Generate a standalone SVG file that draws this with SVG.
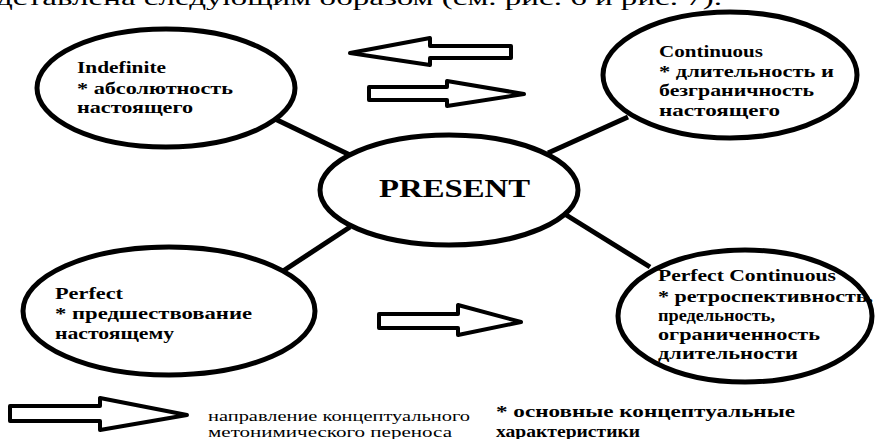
<svg xmlns="http://www.w3.org/2000/svg" width="875" height="439" viewBox="0 0 875 439">
<style>
.node{fill:#fff;stroke:#000;stroke-width:5}
.conn{stroke:#000;stroke-width:5;fill:none}
.barrow{fill:#fff;stroke:#000;stroke-width:4;stroke-linejoin:round}
.t{font-family:"Liberation Serif","Times New Roman",serif;font-weight:bold;font-size:17px;fill:#000}
.big{font-size:26px}
.leg{font-family:"Liberation Serif","Times New Roman",serif;font-size:14px;fill:#000}
.top{font-family:"Liberation Serif","Times New Roman",serif;font-size:22px;fill:#000}
</style>
<rect width="875" height="439" fill="#fff"/>
<text class="top" x="-4" y="5" textLength="726" lengthAdjust="spacingAndGlyphs">дставлена следующим образом (см. рис. 6 и рис. 7).</text>
<g id="connectors">
<line class="conn" x1="273" y1="118" x2="350" y2="155"/>
<line class="conn" x1="628" y1="117" x2="548" y2="153"/>
<line class="conn" x1="280" y1="273" x2="350" y2="227"/>
<line class="conn" x1="563" y1="213" x2="650" y2="267"/>
</g>
<g id="arrows">
<polygon class="barrow" points="350,53 430,38 430,46 511,46 511,58 430,58 430,65"/>
<polygon class="barrow" points="524,94 447,81 447,87 369,87 369,100 447,100 447,106"/>
<polygon class="barrow" points="521,322 458,305 458,314 379,314 379,328 458,328 458,335"/>
</g>
<g id="indefinite">
<ellipse class="node" cx="166" cy="88" rx="129" ry="59"/>
<text class="t" x="77" y="73" textLength="89" lengthAdjust="spacingAndGlyphs">Indefinite</text>
<text class="t" x="77" y="94" textLength="156" lengthAdjust="spacingAndGlyphs">* абсолютность</text>
<text class="t" x="77" y="113" textLength="116" lengthAdjust="spacingAndGlyphs">настоящего</text>
</g>
<g id="continuous">
<ellipse class="node" cx="730" cy="75" rx="127" ry="63"/>
<text class="t" x="659" y="57" textLength="104" lengthAdjust="spacingAndGlyphs">Continuous</text>
<text class="t" x="659" y="77" textLength="175" lengthAdjust="spacingAndGlyphs">* длительность и</text>
<text class="t" x="659" y="96" textLength="155" lengthAdjust="spacingAndGlyphs">безграничность</text>
<text class="t" x="659" y="116" textLength="121" lengthAdjust="spacingAndGlyphs">настоящего</text>
</g>
<g id="present">
<ellipse class="node" cx="449" cy="190" rx="129" ry="55"/>
<text class="t big" x="379" y="197" textLength="151" lengthAdjust="spacingAndGlyphs">PRESENT</text>
</g>
<g id="perfect">
<ellipse class="node" cx="169" cy="311" rx="146" ry="64"/>
<text class="t" x="55" y="299" textLength="68" lengthAdjust="spacingAndGlyphs">Perfect</text>
<text class="t" x="55" y="319" textLength="197" lengthAdjust="spacingAndGlyphs">* предшествование</text>
<text class="t" x="55" y="339" textLength="119" lengthAdjust="spacingAndGlyphs">настоящему</text>
</g>
<g id="perfect-continuous">
<ellipse class="node" cx="745" cy="316" rx="127" ry="66"/>
<text class="t" x="658" y="281" textLength="178" lengthAdjust="spacingAndGlyphs">Perfect Continuous</text>
<text class="t" x="658" y="302" textLength="215" lengthAdjust="spacingAndGlyphs">* ретроспективность,</text>
<text class="t" x="658" y="321" textLength="117" lengthAdjust="spacingAndGlyphs">предельность,</text>
<text class="t" x="658" y="340" textLength="162" lengthAdjust="spacingAndGlyphs">ограниченность</text>
<text class="t" x="658" y="359" textLength="140" lengthAdjust="spacingAndGlyphs">длительности</text>
</g>
<g id="legend">
<polygon class="barrow" points="187,415 100,398 100,406 10,406 10,421 100,421 100,430"/>
<text class="leg" x="208" y="421" textLength="262" lengthAdjust="spacingAndGlyphs">направление концептуального</text>
<text class="leg" x="208" y="437" textLength="244" lengthAdjust="spacingAndGlyphs">метонимического переноса</text>
<text class="t" x="496" y="417" textLength="299" lengthAdjust="spacingAndGlyphs">* основные концептуальные</text>
<text class="t" x="496" y="437" textLength="144" lengthAdjust="spacingAndGlyphs">характеристики</text>
</g>
</svg>
